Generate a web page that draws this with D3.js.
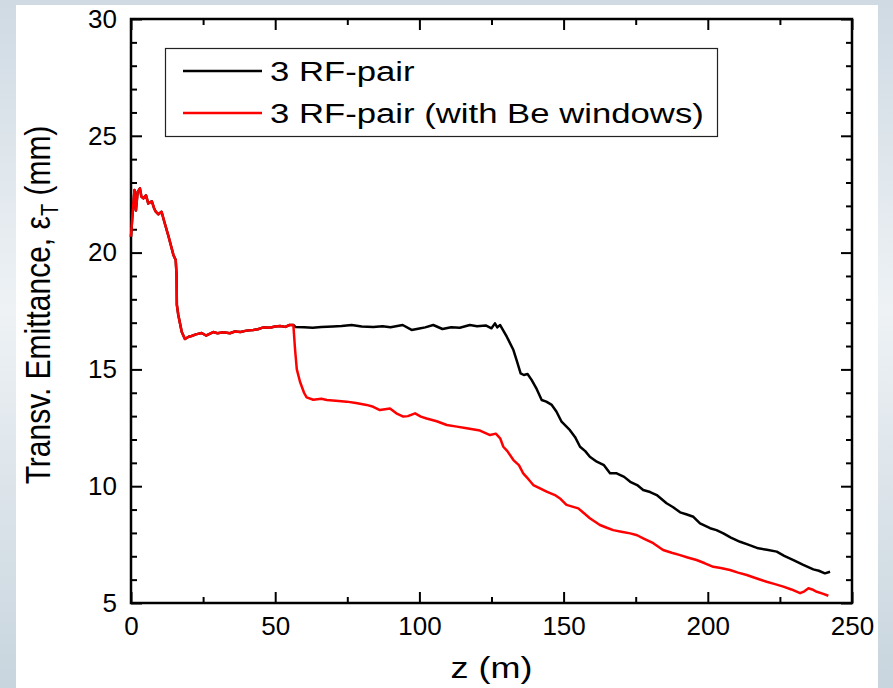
<!DOCTYPE html>
<html>
<head>
<meta charset="utf-8">
<script src="https://cdn.jsdelivr.net/npm/d3@7"></script>
<style>
  html, body { margin: 0; padding: 0; background: #ffffff; }
  svg { display: block; }
  text { font-family: 'Liberation Sans', Arial, sans-serif; fill: #000; }
</style>
</head>
<body>
<div class="graph-emittance"><svg></svg></div>
<script>
// tick values
const xTicks = [0, 50, 100, 150, 200, 250]
const yTicks = [5, 10, 15, 20, 25, 30]

// common part of both runs (before the Be window)
const zShared = [0, 0.5, 1.2, 1.7, 2.3, 3.1, 3.6, 4.3, 5.2, 6.0, 7.2, 8.0, 8.6, 9.5, 10.6, 11.6, 13.0, 14.7, 15.5, 15.8, 15.9, 16.4, 17.6, 18.7, 20.0, 21.0, 22.5, 24.5, 26.0, 28.5, 30.0, 32.0, 34.3, 36.0, 38.0, 40.0, 42.4, 44.0, 45.9, 48.0, 50.0, 51.7, 53.5, 55.0, 56.3]
const eShared = [20.68, 21.6, 22.68, 21.8, 22.6, 22.75, 22.4, 22.32, 22.45, 22.1, 22.2, 21.9, 21.75, 21.64, 21.75, 21.3, 20.7, 19.9, 19.68, 19.04, 17.76, 17.33, 16.6, 16.3, 16.4, 16.43, 16.5, 16.56, 16.45, 16.6, 16.55, 16.59, 16.55, 16.62, 16.6, 16.66, 16.69, 16.72, 16.8, 16.78, 16.84, 16.86, 16.82, 16.9, 16.9]

// 3 RF-pair
const zBlack = [57, 60, 63, 66, 70, 73, 76.5, 80, 84, 87.2, 90, 94.2, 97.3, 100, 102, 104.8, 108, 111, 114, 117.5, 120, 123, 125, 126.2, 127, 128, 130.3, 132.6, 133.7, 135.1, 136.2, 137.5, 138.9, 140.5, 142.4, 144, 145.9, 147.5, 149.3, 152.2, 154, 155.7, 157.5, 159.1, 161.5, 164, 166.1, 168.4, 171, 173.1, 175.5, 177.6, 180, 182.3, 185.7, 188, 190.4, 192.5, 195, 197.3, 200.8, 203, 205.4, 208, 211.2, 214, 217.5, 220.5, 223.9, 226.5, 229.7, 233.1, 236.6, 238.5, 240.6, 242.4]
const eBlack = [16.82, 16.8, 16.78, 16.82, 16.84, 16.86, 16.9, 16.84, 16.82, 16.85, 16.8, 16.9, 16.69, 16.75, 16.8, 16.9, 16.73, 16.8, 16.78, 16.9, 16.85, 16.88, 16.76, 16.97, 16.8, 16.9, 16.4, 15.83, 15.4, 14.83, 14.76, 14.8, 14.55, 14.2, 13.69, 13.62, 13.48, 13.2, 12.76, 12.4, 12.1, 11.69, 11.5, 11.26, 11.05, 10.9, 10.55, 10.55, 10.4, 10.19, 10.05, 9.84, 9.75, 9.62, 9.27, 9.1, 8.88, 8.8, 8.69, 8.41, 8.2, 8.12, 7.98, 7.8, 7.62, 7.5, 7.34, 7.28, 7.2, 7.02, 6.84, 6.63, 6.44, 6.38, 6.27, 6.34]

// 3 RF-pair (with Be windows)
const zRed = [56.9, 57.5, 58.6, 60, 60.9, 63.2, 66, 67.9, 71, 74.8, 78, 81.7, 84, 86.3, 89.8, 92, 94.4, 96, 98.5, 100.5, 102.5, 106, 109.5, 113, 116.4, 121, 124.5, 126.5, 128, 129.1, 130.5, 132.6, 134.5, 136, 137.8, 139.5, 142, 144.1, 147, 149, 151, 155.1, 157, 159.1, 162.6, 165, 167.2, 170, 173.1, 175.5, 177.6, 181.1, 184.5, 187.5, 190.4, 193, 196.1, 199, 201.9, 204.5, 207.7, 210.5, 213.5, 217, 220.4, 223, 226.2, 229, 232, 233.5, 234.9, 236.2, 237.8, 239.8, 241.8]
const eRed = [15.83, 15.0, 14.47, 14.0, 13.8, 13.7, 13.74, 13.69, 13.66, 13.62, 13.56, 13.48, 13.4, 13.26, 13.33, 13.12, 12.98, 13.0, 13.12, 12.98, 12.9, 12.78, 12.62, 12.55, 12.48, 12.38, 12.19, 12.25, 12.05, 11.69, 11.5, 11.12, 10.9, 10.55, 10.3, 10.05, 9.9, 9.77, 9.62, 9.45, 9.2, 9.05, 8.85, 8.63, 8.34, 8.22, 8.12, 8.05, 7.98, 7.9, 7.77, 7.56, 7.27, 7.15, 7.05, 6.95, 6.84, 6.7, 6.55, 6.5, 6.41, 6.3, 6.2, 6.05, 5.91, 5.82, 5.7, 5.58, 5.42, 5.5, 5.63, 5.58, 5.48, 5.4, 5.31]

const seriesNames = ['3 RF-pair', '3 RF-pair (with Be windows)']
const seriesColors = ['#000000', '#ff0000']

const W = 893
const H = 688
const margin = { left: 131, top: 19, right: 41, bottom: 85 }
const width = W - margin.left - margin.right
const height = H - margin.top - margin.bottom

const svg = d3.select('.graph-emittance').select('svg')
  .attr('width', W)
  .attr('height', H)

// slide-like background
const grad = svg.append('defs').append('linearGradient')
  .attr('id', 'bg-grad')
  .attr('x1', 0).attr('y1', 0).attr('x2', 0).attr('y2', 1)
grad.append('stop').attr('offset', '0%').attr('stop-color', '#cfdae3')
grad.append('stop').attr('offset', '45%').attr('stop-color', '#eef2f5')
grad.append('stop').attr('offset', '100%').attr('stop-color', '#c8d5de')

svg.append('rect').attr('width', W).attr('height', H).attr('fill', 'url(#bg-grad)')
svg.append('rect')
  .attr('x', 16).attr('y', 5)
  .attr('width', 862).attr('height', H - 5)
  .attr('fill', '#ffffff')

const g = svg.append('g')
  .attr('transform', 'translate(' + margin.left + ',' + margin.top + ')')

const x = d3.scaleLinear().domain([0, 250]).range([0, width])
const y = d3.scaleLinear().domain([5, 30]).range([height, 0])

/**
 * Draws an axis with inward major and minor ticks.
 *
 * @param {*} axisFn d3 axis generator
 * @param {*} scale The scale
 * @param {number[]} major Major tick values
 * @param {number[]} minor Minor tick values
 * @param {string} transform Translation of the axis group
 * @param {boolean} labels Whether to show tick labels
 */
function drawAxis (axisFn, scale, major, minor, transform, labels) {
  const minorG = g.append('g')
    .attr('transform', transform)
    .call(axisFn(scale).tickValues(minor).tickSize(-6).tickFormat(''))
  const majorG = g.append('g')
    .attr('transform', transform)
    .call(axisFn(scale).tickValues(major).tickSize(-11).tickPadding(14)
      .tickFormat(labels ? d3.format('d') : ''))
  ;[minorG, majorG].forEach(a => {
    a.select('.domain').remove()
    a.selectAll('.tick line').attr('stroke', '#000').attr('stroke-width', 2)
  })
  majorG.selectAll('.tick text')
    .style('font-family', "'Liberation Sans', Arial, sans-serif")
    .attr('font-size', 26)
    .attr('fill', '#000')
}

const xMinor = d3.range(25, 250, 50)
const yMinor = d3.range(5, 30, 1).filter(v => v % 5 !== 0)

drawAxis(d3.axisBottom, x, xTicks, xMinor, 'translate(0,' + height + ')', true)
drawAxis(d3.axisTop, x, xTicks, xMinor, 'translate(0,0)', false)
drawAxis(d3.axisLeft, y, yTicks, yMinor, 'translate(0,0)', true)
drawAxis(d3.axisRight, y, yTicks, yMinor, 'translate(' + width + ',0)', false)

g.append('rect')
  .attr('width', width).attr('height', height)
  .attr('fill', 'none').attr('stroke', '#000').attr('stroke-width', 2.5)

// curves
const line = d3.line().x(d => x(d[0])).y(d => y(d[1]))
const shared = d3.zip(zShared, eShared)
const curves = [
  shared.concat(d3.zip(zBlack, eBlack)),
  shared.concat(d3.zip(zRed, eRed))
]
curves.forEach((pts, i) => {
  g.append('path')
    .datum(pts)
    .attr('d', line)
    .attr('fill', 'none')
    .attr('stroke', seriesColors[i])
    .attr('stroke-width', 2.5)
    .attr('stroke-linejoin', 'round')
})

// legend (the original slide is a bit stretched horizontally)
const legend = svg.append('g')
legend.append('rect')
  .attr('x', 165.5).attr('y', 48.5)
  .attr('width', 552).attr('height', 88)
  .attr('fill', '#fff').attr('stroke', '#222').attr('stroke-width', 1.2)
seriesNames.forEach((name, i) => {
  const ly = 71 + i * 42
  legend.append('line')
    .attr('x1', 183).attr('x2', 262).attr('y1', ly).attr('y2', ly)
    .attr('stroke', seriesColors[i]).attr('stroke-width', 2.5)
  legend.append('text')
    .attr('transform', 'translate(270,' + (ly + 10) + ') scale(1.24,1)')
    .attr('font-size', 28)
    .text(name)
})

// axis titles
svg.append('text')
  .attr('transform', 'translate(' + (margin.left + width / 2) + ',678) scale(1.2,1)')
  .attr('text-anchor', 'middle')
  .attr('font-size', 30)
  .text('z (m)')

const yTitle = svg.append('text')
  .attr('transform', 'translate(50,305) rotate(-90) scale(1,1.17)')
  .attr('text-anchor', 'middle')
  .attr('font-size', 30)
yTitle.append('tspan').text('Transv. Emittance, ε')
yTitle.append('tspan').attr('font-size', 20).attr('dy', 7).text('T')
yTitle.append('tspan').attr('dy', -7).text(' (mm)')
</script>
</body>
</html>
